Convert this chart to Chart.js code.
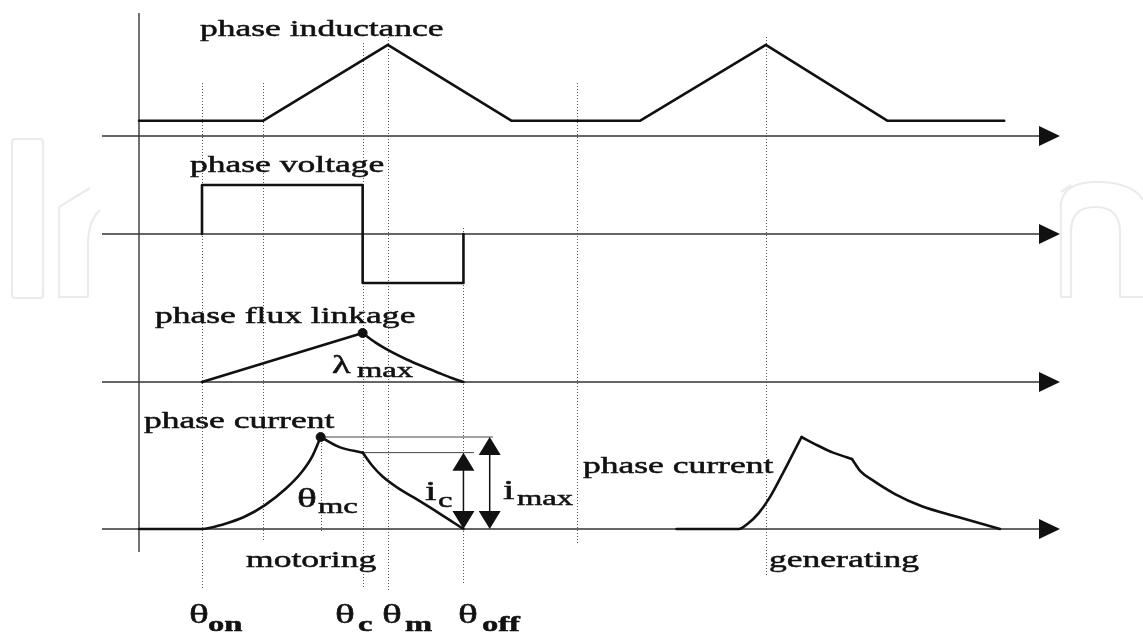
<!DOCTYPE html>
<html>
<head>
<meta charset="utf-8">
<script src="https://cdn.jsdelivr.net/npm/chart.js@4.4.1/dist/chart.umd.min.js"></script>
<style>
  html, body { margin: 0; padding: 0; background: #fff; }
  #wrap { width: 1143px; height: 634px; position: relative; }
</style>
</head>
<body>
<div id="wrap"><canvas id="chart"></canvas></div>
<script>
// rotor angle (deg, 360 = one inductance period) and normalised values
const inductanceAngle = [0, 118, 237, 355, 477, 597, 713, 824];
const inductance      = [1, 1, 6, 1, 1, 6, 1, 1];

const voltageAngle = [60, 60, 213, 213, 309, 309];
const voltage      = [0, 1, 1, -1, -1, 0];

const fluxAngle = [60, 213, 225, 240, 255, 270, 285, 298, 309];
const flux      = [0, 1, 0.81, 0.62, 0.46, 0.32, 0.19, 0.08, 0];

const motoringAngle   = [0, 60, 80, 100, 120, 140, 155, 165, 173, 191, 213, 222, 232, 246, 262, 286, 309];
const motoringCurrent = [0, 0, 0.05, 0.13, 0.26, 0.44, 0.62, 0.79, 1, 0.89, 0.83, 0.69, 0.57, 0.45, 0.34, 0.17, 0];

const generatingAngle   = [512, 571, 580, 590, 600, 612, 622, 631, 646, 661, 674, 679, 687, 700, 720, 745, 780, 820];
const generatingCurrent = [0, 0, 0.06, 0.17, 0.33, 0.58, 0.80, 1, 0.91, 0.83, 0.78, 0.76, 0.63, 0.52, 0.38, 0.25, 0.13, 0];

// characteristic angles
const thetaOn = 60, thetaMc = 173, thetaC = 213, thetaM = 237, thetaOff = 309;
const guideAngles = [thetaOn, 118, thetaMc, thetaC, thetaM, thetaOff, 417, 597];
const thetaNames  = ['on', 'c', 'm', 'off'];
const iC = 0.83, iMax = 1;

const pts = (xs, ys) => xs.map((x, i) => ({ x, y: ys[i] }));
// points between two angles (inclusive), so each smooth piece can meet the next at a sharp corner
const piece = (xs, ys, from, to) => pts(xs, ys).filter(p => p.x >= from && p.x <= to);

const STRETCH = 1.48;   // the source figure is stretched horizontally
const SERIF = '"Liberation Serif", "Times New Roman", serif';
const INK = '#111';

function txt(ctx, s, x, y, size, bold) {
  ctx.save();
  ctx.font = (bold ? 'bold ' : '') + size + 'px ' + SERIF;
  ctx.fillStyle = INK;
  ctx.strokeStyle = INK;
  ctx.lineWidth = 0.5;
  ctx.textBaseline = 'alphabetic';
  ctx.translate(x, y);
  ctx.scale(STRETCH, 1);
  ctx.fillText(s, 0, 0);
  ctx.strokeText(s, 0, 0);
  ctx.restore();
}

function head(ctx, x, y, dir) {
  // filled arrow head, dir: 1 = pointing up, -1 = down, 0 = right
  ctx.beginPath();
  if (dir === 0) {
    ctx.moveTo(x, y); ctx.lineTo(x - 21, y - 10); ctx.lineTo(x - 21, y + 10);
  } else {
    const h = 18 * dir;
    ctx.moveTo(x, y); ctx.lineTo(x - 11, y + h); ctx.lineTo(x + 11, y + h);
  }
  ctx.closePath();
  ctx.fill();
}

const diagram = {
  id: 'diagram',
  beforeDraw(chart) {
    // faint publisher watermark
    const ctx = chart.ctx;
    ctx.save();
    ctx.strokeStyle = '#ebebeb';
    ctx.lineWidth = 2.2;
    ctx.beginPath();
    ctx.roundRect(12, 139, 31, 159, 3);
    ctx.stroke();
    ctx.beginPath();
    ctx.moveTo(88, 297); ctx.lineTo(59, 297); ctx.lineTo(59, 207);
    ctx.moveTo(59, 207); ctx.lineTo(90, 188);
    ctx.moveTo(88, 297); ctx.lineTo(88, 242); ctx.quadraticCurveTo(89, 220, 100, 210);
    ctx.stroke();
    ctx.beginPath();
    ctx.moveTo(1061, 297); ctx.lineTo(1071, 297); ctx.lineTo(1071, 232);
    ctx.quadraticCurveTo(1071, 207, 1095, 207);
    ctx.quadraticCurveTo(1120, 207, 1120, 232);
    ctx.lineTo(1120, 297); ctx.lineTo(1143, 297);
    ctx.moveTo(1061, 297); ctx.lineTo(1061, 203);
    ctx.quadraticCurveTo(1064, 182, 1097, 182);
    ctx.quadraticCurveTo(1132, 182, 1143, 200);
    ctx.moveTo(1061, 192); ctx.lineTo(1071, 185);
    ctx.stroke();
    ctx.restore();
  },
  beforeDatasetsDraw(chart) {
    const ctx = chart.ctx, x = chart.scales.x;
    const yI = chart.scales.yI;
    ctx.save();

    // dotted angle guides
    const spans = [[83, 590], [83, 540], [437, 533], [43, 588], [37, 590], [228, 583], [83, 543], [37, 575]];
    ctx.strokeStyle = '#555';
    ctx.lineWidth = 1;
    ctx.setLineDash([1, 2]);
    guideAngles.forEach((a, i) => {
      const px = Math.round(x.getPixelForValue(a)) + 0.5;
      ctx.beginPath();
      ctx.moveTo(px, spans[i][0]);
      ctx.lineTo(px, spans[i][1]);
      ctx.stroke();
    });
    ctx.setLineDash([]);

    // vertical axis
    ctx.strokeStyle = '#444';
    ctx.lineWidth = 1.5;
    const x0 = x.getPixelForValue(0);
    ctx.beginPath();
    ctx.moveTo(x0, 13);
    ctx.lineTo(x0, 552);
    ctx.stroke();

    // horizontal angle axes with arrow heads
    ctx.fillStyle = INK;
    ['yL', 'yV', 'yF', 'yI'].forEach(id => {
      const py = chart.scales[id].getPixelForValue(0);
      ctx.strokeStyle = '#333';
      ctx.lineWidth = 1.6;
      ctx.beginPath();
      ctx.moveTo(102, py);
      ctx.lineTo(1045, py);
      ctx.stroke();
      head(ctx, 1060, py, 0);
    });

    // current level references
    ctx.strokeStyle = '#444';
    ctx.lineWidth = 1;
    ctx.beginPath();
    ctx.moveTo(x.getPixelForValue(thetaMc), yI.getPixelForValue(iMax));
    ctx.lineTo(x.getPixelForValue(337), yI.getPixelForValue(iMax));
    ctx.moveTo(x.getPixelForValue(thetaC), yI.getPixelForValue(iC));
    ctx.lineTo(x.getPixelForValue(319), yI.getPixelForValue(iC));
    ctx.stroke();
    ctx.restore();
  },
  afterDatasetsDraw(chart) {
    const ctx = chart.ctx, x = chart.scales.x, yI = chart.scales.yI;
    ctx.save();
    ctx.strokeStyle = INK;
    ctx.fillStyle = INK;
    ctx.lineWidth = 1.5;

    // double arrows for i_c and i_max
    [[thetaOff, iC], [334, iMax]].forEach(([a, lvl]) => {
      const px = x.getPixelForValue(a);
      const top = yI.getPixelForValue(lvl), bot = yI.getPixelForValue(0);
      ctx.beginPath();
      ctx.moveTo(px, top + 10);
      ctx.lineTo(px, bot - 10);
      ctx.stroke();
      head(ctx, px, top, 1);
      head(ctx, px, bot, -1);
    });

    // labels
    txt(ctx, 'phase inductance', 200, 36, 24);
    txt(ctx, 'phase voltage', 190, 172, 24);
    txt(ctx, 'phase flux linkage', 155, 323, 24);
    txt(ctx, 'phase current', 144, 428, 24);
    txt(ctx, 'phase current', 583, 473, 24);
    txt(ctx, 'motoring', 246, 567, 24);
    txt(ctx, 'generating', 769, 567, 24);

    txt(ctx, '\u03bb', 332, 373, 26);
    txt(ctx, 'max', 357, 377, 22);
    txt(ctx, '\u03b8', 297, 507, 28);
    txt(ctx, 'mc', 318, 513, 22);
    txt(ctx, 'i', 425, 500, 28);
    txt(ctx, 'c', 438, 507, 22);
    txt(ctx, 'i', 503, 499, 28);
    txt(ctx, 'max', 517, 505, 22);

    const thetaX = [[189, 208], [335, 358], [382, 405], [458, 482]];
    thetaNames.forEach((n, i) => {
      txt(ctx, '\u03b8', thetaX[i][0], 623, 28);
      txt(ctx, n, thetaX[i][1], 631, 22, true);
    });
    ctx.restore();
  }
};

const line = (data, yAxisID, smooth) => ({
  data, yAxisID, borderColor: INK, borderWidth: 2.6, pointRadius: 0, fill: false,
  tension: 0, cubicInterpolationMode: smooth ? 'monotone' : 'default',
  borderJoinStyle: 'round', borderCapStyle: 'round'
});

new Chart(document.getElementById('chart'), {
  type: 'line',
  data: {
    datasets: [
      line(pts(inductanceAngle, inductance), 'yL'),
      line(pts(voltageAngle, voltage), 'yV'),
      line(piece(fluxAngle, flux, thetaOn, thetaC), 'yF'),
      line(piece(fluxAngle, flux, thetaC, thetaOff), 'yF', true),
      line(piece(motoringAngle, motoringCurrent, 0, thetaMc), 'yI', true),
      line(piece(motoringAngle, motoringCurrent, thetaMc, thetaC), 'yI', true),
      line(piece(motoringAngle, motoringCurrent, thetaC, thetaOff), 'yI', true),
      line(piece(generatingAngle, generatingCurrent, 512, 631), 'yI', true),
      line(piece(generatingAngle, generatingCurrent, 631, 679), 'yI', true),
      line(piece(generatingAngle, generatingCurrent, 679, 820), 'yI', true),
      { data: [{ x: thetaC, y: 1 }], yAxisID: 'yF', showLine: false, pointRadius: 4.5,
        pointBackgroundColor: INK, pointBorderColor: INK },
      { data: [{ x: thetaMc, y: iMax }], yAxisID: 'yI', showLine: false, pointRadius: 4.5,
        pointBackgroundColor: INK, pointBorderColor: INK }
    ]
  },
  options: {
    responsive: true,
    maintainAspectRatio: false,
    animation: false,
    events: [],
    layout: { padding: 0, autoPadding: false },
    plugins: { legend: { display: false }, tooltip: { enabled: false } },
    scales: {
      x:  { type: 'linear', min: -132.38, max: 956.19, display: false },
      yL: { type: 'linear', min: -32.763, max: 8.947, display: false },
      yV: { type: 'linear', min: -8.1633, max: 4.7755, display: false },
      yF: { type: 'linear', min: -5.1429, max: 7.7959, display: false },
      yI: { type: 'linear', min: -1.1413, max: 5.75, display: false }
    }
  },
  plugins: [diagram]
});
</script>
</body>
</html>
